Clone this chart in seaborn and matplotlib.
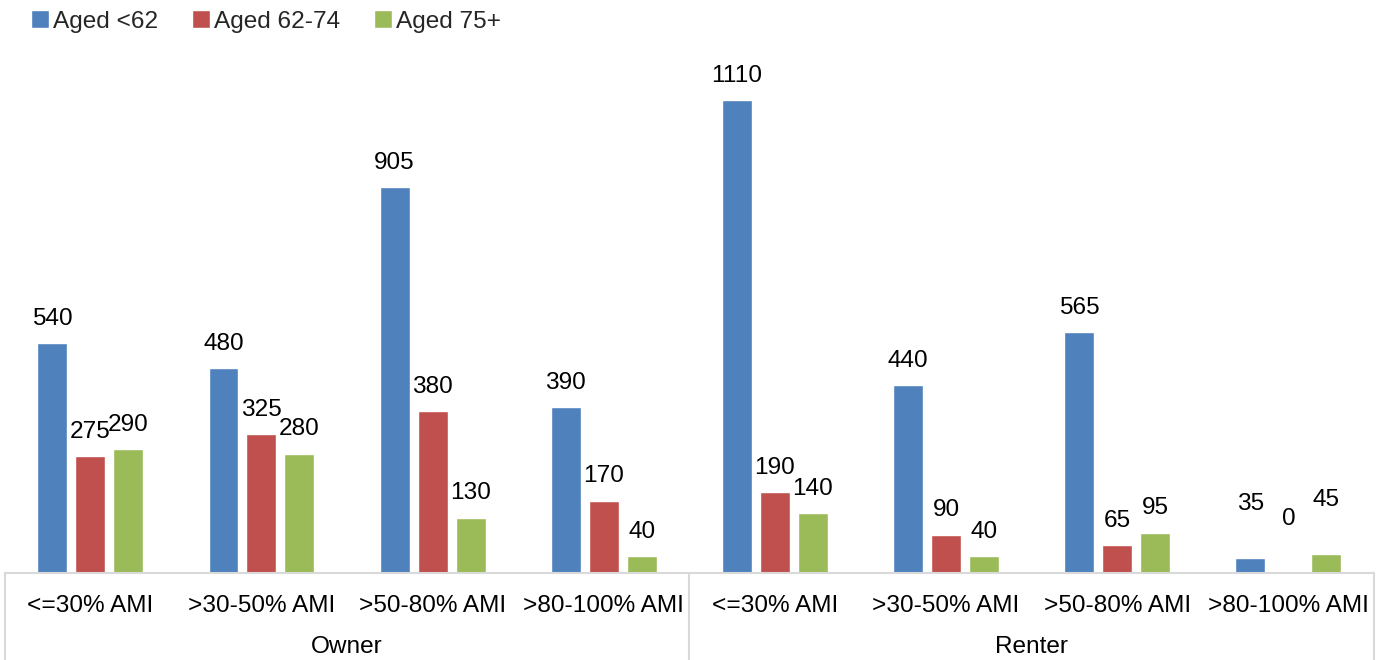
import matplotlib
matplotlib.use("Agg")
import matplotlib.pyplot as plt
import matplotlib.transforms as mtransforms
import seaborn as sns
import pandas as pd

# Households by tenure, income band and age of householder
tenure_groups = ["Owner", "Renter"]
income_bands = ["<=30% AMI", ">30-50% AMI", ">50-80% AMI", ">80-100% AMI"]
aged_under_62 = [540, 480, 905, 390, 1110, 440, 565, 35]
aged_62_74 = [275, 325, 380, 170, 190, 90, 65, 0]
aged_75_plus = [290, 280, 130, 40, 140, 40, 95, 45]
series_names = ["Aged <62", "Aged 62-74", "Aged 75+"]
series_colors = ["#4F81BD", "#C0504D", "#9BBB59"]

# one slot per tenure/income pair so repeated band names stay distinct
slots = [f"{t}|{b}" for t in tenure_groups for b in income_bands]
slot_labels = [b for t in tenure_groups for b in income_bands]

rows = []
for name, values in zip(series_names, [aged_under_62, aged_62_74, aged_75_plus]):
    for slot, v in zip(slots, values):
        rows.append({"slot": slot, "age": name, "households": v})
df = pd.DataFrame(rows)

sns.set_theme(style="white")
plt.rcParams["font.family"] = ["Liberation Sans", "DejaVu Sans"]
FS = 17.6

W, H = 1384, 660
fig = plt.figure(figsize=(W / 100, H / 100), dpi=100)
ax = fig.add_axes([4.7 / W, 87 / H, 1369.3 / W, 511.5 / H])

sns.barplot(data=df, x="slot", y="households", hue="age", order=slots,
            hue_order=series_names, palette=series_colors, saturation=1,
            width=0.665, gap=0.21, ax=ax, legend=True)

last_slot = len(slots) - 1
for cont in ax.containers:
    labels = ax.bar_label(cont, fmt="%d", padding=9.5, fontsize=FS, color="black")
    for bar, lab in zip(cont, labels):
        # lift the labels of the last cluster clear of the axis corner
        if round(bar.get_x() + bar.get_width() / 2) == last_slot:
            lab.xyann = (lab.xyann[0], lab.xyann[1] + 21.5)

ax.set_xlim(-0.5, len(slots) - 0.5)
ax.set_ylim(0, 1200)
ax.set_yticks([])
ax.set_xlabel("")
ax.set_ylabel("")
ax.set_xticks(range(len(slots)))
ax.set_xticklabels(slot_labels, fontsize=FS)
ax.tick_params(axis="x", length=0, pad=15.5, colors="black")

for side in ["top", "right", "left"]:
    ax.spines[side].set_visible(False)
ax.spines["bottom"].set_color("#d9d9d9")
ax.spines["bottom"].set_linewidth(1.5)

trans = mtransforms.blended_transform_factory(ax.transData, ax.transAxes)
n_band = len(income_bands)
for k in range(len(tenure_groups) + 1):
    xb = k * n_band - 0.5
    ax.plot([xb, xb], [0, -0.18], transform=trans, color="#d9d9d9",
            lw=1.5, clip_on=False)
for k, grp in enumerate(tenure_groups):
    ax.text(k * n_band + (n_band - 1) / 2, -0.144, grp, transform=trans,
            ha="center", va="center", fontsize=FS, color="black")

handles, labels = ax.get_legend_handles_labels()
ax.get_legend().remove()
fig.legend(handles, labels, loc="upper left", bbox_to_anchor=(0.015, 1.0),
           ncol=3, frameon=False, fontsize=FS, handlelength=0.72,
           handleheight=0.72, handletextpad=0.17, columnspacing=1.4,
           borderaxespad=0.02)

fig.savefig("out.png", dpi=100)
